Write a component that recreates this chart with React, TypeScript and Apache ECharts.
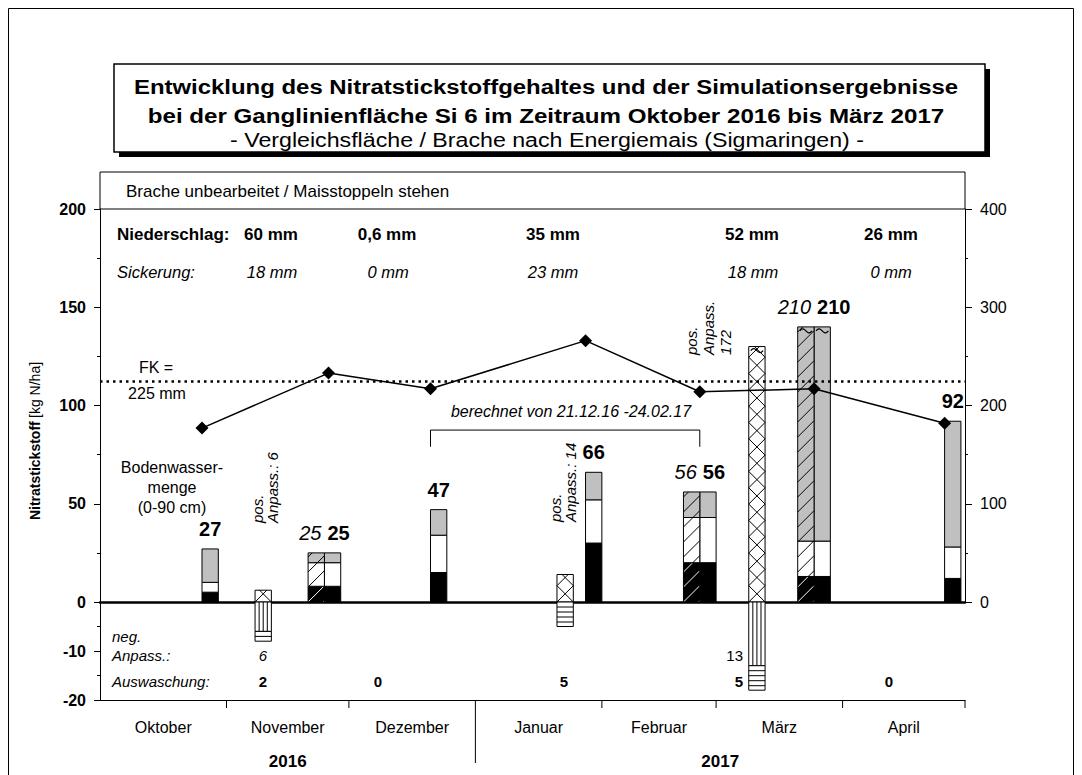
import React, { useEffect, useRef } from 'react';
import * as echarts from 'echarts';

const DAY = 86400000;
function d(s: string): number {
  const [y, m, dd] = s.split('-').map(Number);
  return Date.UTC(y, m - 1, dd);
}

// ---------- axes / categories
const X_START = '2016-10-01';
const X_END = '2017-05-01';
const MONTHS = ['Oktober', 'November', 'Dezember', 'Januar', 'Februar', 'März', 'April'];
const MONTH_BOUNDS = ['2016-10-01', '2016-11-01', '2016-12-01', '2017-01-01', '2017-02-01', '2017-03-01', '2017-04-01', '2017-05-01'];
const YEARS = ['2016', '2017'];
const YEAR_BOUNDS = ['2016-10-01', '2017-01-01', '2017-05-01'];

// ---------- measured nitrate N (layers: 0-30 black, 30-60 white, 60-90 gray) [kg N/ha]
const MEAS_DATES = ['2016-10-28', '2016-11-27', '2016-12-23', '2017-01-30', '2017-02-27', '2017-03-27', '2017-04-28'];
const MEAS_L1 = [5, 8, 15, 30, 20, 13, 12];
const MEAS_L2 = [5, 12, 19, 22, 23, 18, 16];
const MEAS_L3 = [17, 5, 13, 14, 13, 179, 64];
const MEAS_BREAK = [null, null, null, null, null, 140, null];

// ---------- simulated nitrate N (hatched)
const SIM_DATES = ['2016-11-23', '2017-02-23', '2017-03-23'];
const SIM_L1 = [8, 20, 13];
const SIM_L2 = [12, 23, 18];
const SIM_L3 = [5, 13, 179];
const SIM_BREAK = [null, null, 140];

// ---------- adjustments and leaching
const ADJ_DATES = ['2016-11-10', '2017-01-23', '2017-03-11'];
const ADJ_POS = [6, 14, 172];
const ADJ_POS_BREAK = [null, null, 130];
const ADJ_NEG = [6, 0, 13];
const ADJ_LEACH = [2, 5, 5];

// ---------- soil water (right axis) [mm]
const WATER_DATES = ['2016-10-26', '2016-11-26', '2016-12-21', '2017-01-28', '2017-02-25', '2017-03-25', '2017-04-26'];
const WATER_MM = [177, 233, 217, 266, 214, 217, 182];
const FK_MM = 225;

// ---------- period texts
const NIEDERSCHLAG = ['60 mm', '0,6 mm', '35 mm', '52 mm', '26 mm'];
const SICKERUNG = ['18 mm', '0 mm', '23 mm', '18 mm', '0 mm'];
const AUSWASCHUNG = ['2', '0', '5', '5', '0'];
const CALC_FROM = '2016-12-21';
const CALC_TO = '2017-02-25';

const TITLE = [
  'Entwicklung des Nitratstickstoffgehaltes und der Simulationsergebnisse',
  'bei der Ganglinienfläche Si 6 im Zeitraum Oktober 2016 bis März 2017',
  '- Vergleichsfläche / Brache nach Energiemais (Sigmaringen) -',
];
const HEADER = 'Brache unbearbeitet / Maisstoppeln stehen';

// ---------- styling
const FONT = '"Liberation Sans", Arial, Helvetica, sans-serif';
const f = (size: number, weight = 'normal', style = 'normal') => `${style} ${weight} ${size}px ${FONT}`;
const GRAY = '#c0c0c0';
const LAYER_FILL = ['#000', '#fff', GRAY];
const HATCH_STROKE = ['#fff', '#000', '#000'];
const BAR_DAYS = 4;

function diag(x0: number, y0: number, x1: number, y1: number, slope: number, spacing: number, ax: number, ay: number, stroke: string) {
  const out: any[] = [];
  const s0 = slope * x0, s1 = slope * x1;
  const bMin = y0 - Math.max(s0, s1);
  const bMax = y1 - Math.min(s0, s1);
  const base = ay - slope * ax;
  let b = base + Math.ceil((bMin - base) / spacing) * spacing;
  for (; b <= bMax + 1e-6; b += spacing) {
    let xa = (y0 - b) / slope, xb = (y1 - b) / slope;
    if (xa > xb) { const tmp = xa; xa = xb; xb = tmp; }
    const lo = Math.max(x0, xa), hi = Math.min(x1, xb);
    if (hi - lo < 0.8) continue;
    out.push({ type: 'line', shape: { x1: lo, y1: slope * lo + b, x2: hi, y2: slope * hi + b }, style: { stroke, lineWidth: 1 } });
  }
  return out;
}

function wave(x0: number, w: number, yTop: number) {
  return {
    type: 'bezierCurve',
    shape: { x1: x0 + 2, y1: yTop + 4, x2: x0 + w - 2, y2: yTop + 4, cpx1: x0 + w * 0.45, cpy1: yTop - 3, cpx2: x0 + w * 0.55, cpy2: yTop + 11 },
    style: { stroke: '#000', fill: 'none', lineWidth: 1.2 },
  };
}

function barGeom(api: any, t: number) {
  const xa = api.coord([t - (BAR_DAYS / 2) * DAY, 0])[0];
  const xb = api.coord([t + (BAR_DAYS / 2) * DAY, 0])[0];
  return { x0: xa, x1: xb, w: xb - xa, yZero: api.coord([t, 0])[1] };
}

function stackBar(api: any, t: number, layers: number[], cut: number | null, hatched: boolean, labelMode: string, italic: boolean) {
  const { x0, x1, w, yZero } = barGeom(api, t);
  const children: any[] = [];
  let acc = 0;
  let topY = yZero;
  layers.forEach((v, k) => {
    let lo = acc;
    let hi = acc + v;
    acc = hi;
    if (cut != null) {
      if (lo >= cut) return;
      hi = Math.min(hi, cut);
    }
    const yT = api.coord([t, hi])[1];
    const yB = api.coord([t, lo])[1];
    topY = yT;
    children.push({ type: 'rect', shape: { x: x0, y: yT, width: w, height: yB - yT }, style: { fill: LAYER_FILL[k], stroke: 'none' } });
    if (hatched) children.push(...diag(x0, yT, x1, yB, -1, 15, x0, yZero, HATCH_STROKE[k]));
    children.push({ type: 'rect', shape: { x: x0, y: yT, width: w, height: yB - yT }, style: { fill: 'none', stroke: '#000', lineWidth: 1 } });
  });
  if (cut != null) children.push(wave(x0, w, topY));
  const total = layers.reduce((a, b) => a + b, 0);
  let lx = (x0 + x1) / 2;
  let align = 'center';
  if (labelMode === 'right') { lx = x1 - 3; align = 'right'; }
  if (labelMode === 'left') { lx = x0 + 3; align = 'left'; }
  children.push({
    type: 'text', x: lx, y: topY - 20,
    style: { text: String(total), font: italic ? f(20, 'normal', 'italic') : f(20, 'bold'), fill: '#000', textAlign: align, textVerticalAlign: 'middle' },
  });
  return { type: 'group', children };
}

const SIM_T = SIM_DATES.map(d);
const isPaired = (t: number) => SIM_T.some((s) => Math.abs(t - s - BAR_DAYS * DAY) < DAY / 2);

function txt(x: number, y: number, text: string, font: string, align = 'left', extra: any = {}) {
  const { style: es, ...rest } = extra;
  return { type: 'text', x, y, style: { text, font, fill: '#000', textAlign: align, textVerticalAlign: 'middle', ...(es || {}) }, ...rest };
}

function buildOption() {
  const xMin = d(X_START), xMax = d(X_END);
  const axisText = { color: '#000', fontFamily: FONT, fontSize: 16 };
  const black = { color: '#000', width: 1 };
  const ROW_X = [271, 387, 553, 752, 891];
  const SICK_X = [272, 388, 553, 753, 891];
  const AUS_X = [263, 378, 564, 743, 889];
  const AUS_ALIGN = ['center', 'center', 'center', 'right', 'center'];

  const graphics: any[] = [
    { type: 'rect', shape: { x: 8.5, y: 8.5, width: 1065, height: 800 }, style: { fill: 'none', stroke: '#000', lineWidth: 1 } },
    { type: 'rect', shape: { x: 119, y: 69, width: 871, height: 88 }, style: { fill: '#000' } },
    { type: 'rect', shape: { x: 114, y: 64, width: 871, height: 88 }, style: { fill: '#fff', stroke: '#000', lineWidth: 1.5 } },
    txt(546, 87, TITLE[0], f(21, 'bold'), 'center', { scaleX: 1.14 }),
    txt(546, 116, TITLE[1], f(21, 'bold'), 'center', { scaleX: 1.15 }),
    txt(547, 140, TITLE[2], f(20), 'center', { scaleX: 1.16 }),
    { type: 'rect', shape: { x: 100, y: 172, width: 865, height: 37 }, style: { fill: 'none', stroke: '#000', lineWidth: 1 } },
    txt(126, 191, HEADER, f(17)),
    txt(117, 234, 'Niederschlag:', f(17, 'bold')),
    ...NIEDERSCHLAG.map((s, i) => txt(ROW_X[i], 234, s, f(17, 'bold'), 'center')),
    txt(117, 272, 'Sickerung:', f(16.5, 'normal', 'italic')),
    ...SICKERUNG.map((s, i) => txt(SICK_X[i], 272, s, f(16.5, 'normal', 'italic'), 'center')),
    txt(156, 367, 'FK =', f(16), 'center'),
    txt(157, 393, `${FK_MM} mm`, f(16), 'center'),
    txt(172, 487, 'Bodenwasser-\nmenge\n(0-90 cm)', f(16), 'center', { style: { lineHeight: 20 } }),
    txt(571, 411, 'berechnet von 21.12.16 -24.02.17', f(16, 'normal', 'italic'), 'center'),
    txt(265, 523, `pos.\nAnpass.: ${ADJ_POS[0]}`, f(15, 'normal', 'italic'), 'left', { rotation: Math.PI / 2, style: { lineHeight: 15 } }),
    txt(563, 522, `pos.\nAnpass.: ${ADJ_POS[1]}`, f(15, 'normal', 'italic'), 'left', { rotation: Math.PI / 2, style: { lineHeight: 15 } }),
    txt(708, 355, `pos.\nAnpass.\n${ADJ_POS[2]}`, f(15, 'normal', 'italic'), 'left', { rotation: Math.PI / 2, style: { lineHeight: 17 } }),
    txt(112, 636, 'neg.', f(15, 'normal', 'italic')),
    txt(112, 655, 'Anpass.:', f(15, 'normal', 'italic')),
    txt(263, 655, String(ADJ_NEG[0]), f(15, 'normal', 'italic'), 'center'),
    txt(743, 655, String(ADJ_NEG[2]), f(15), 'right'),
    txt(112, 681, 'Auswaschung:', f(15, 'normal', 'italic')),
    ...AUSWASCHUNG.map((s, i) => txt(AUS_X[i], 681, s, f(15, 'bold'), AUS_ALIGN[i])),
    {
      type: 'text', x: 35, y: 441, rotation: Math.PI / 2,
      style: {
        text: '{b|Nitratstickstoff} {n|[kg N/ha]}', fill: '#000', textAlign: 'center', textVerticalAlign: 'middle',
        rich: { b: { font: f(14, 'bold'), fill: '#000' }, n: { font: f(14), fill: '#000' } },
      },
    },
  ];

  return {
    animation: false,
    grid: [
      { left: 100, top: 209, width: 865, height: 393 },
      { left: 100, top: 602, width: 865, height: 98 },
    ],
    xAxis: [
      { type: 'time', gridIndex: 0, min: xMin, max: xMax, position: 'bottom', axisLine: { onZero: false, lineStyle: { color: '#000', width: 2.5 } }, axisTick: { show: false }, axisLabel: { show: false }, splitLine: { show: false } },
      { type: 'time', gridIndex: 1, min: xMin, max: xMax, position: 'bottom', axisLine: { onZero: false, lineStyle: black }, axisTick: { show: false }, axisLabel: { show: false }, splitLine: { show: false } },
    ],
    yAxis: [
      {
        type: 'value', gridIndex: 0, position: 'left', min: 0, max: 200, interval: 50,
        axisLine: { show: true, onZero: false, lineStyle: black },
        axisTick: { show: true, length: 6, lineStyle: black },
        minorTick: { show: true, splitNumber: 2, length: 3, lineStyle: black },
        axisLabel: { ...axisText, fontWeight: 'bold', margin: 14 },
        splitLine: { show: false },
      },
      {
        type: 'value', gridIndex: 0, position: 'right', min: 0, max: 400, interval: 100,
        axisLine: { show: true, onZero: false, lineStyle: black },
        axisTick: { show: true, length: 7, lineStyle: black },
        minorTick: { show: true, splitNumber: 2, length: 3, lineStyle: black },
        axisLabel: { ...axisText, margin: 15 },
        splitLine: { show: false },
      },
      {
        type: 'value', gridIndex: 1, position: 'left', min: -20, max: 0, interval: 10,
        axisLine: { show: true, onZero: false, lineStyle: black },
        axisTick: { show: true, length: 6, lineStyle: black },
        minorTick: { show: true, splitNumber: 2, length: 3, lineStyle: black },
        axisLabel: { ...axisText, fontWeight: 'bold', margin: 14, formatter: (v: number) => (v === 0 ? '' : String(v)) },
        splitLine: { show: false },
      },
    ],
    series: [
      {
        type: 'custom', name: 'Messung', xAxisIndex: 0, yAxisIndex: 0, clip: false, silent: true, z: 3,
        data: MEAS_DATES.map((s) => [d(s), 0]),
        renderItem: (params: any, api: any) => {
          const i = params.dataIndex;
          const t = d(MEAS_DATES[i]);
          return stackBar(api, t, [MEAS_L1[i], MEAS_L2[i], MEAS_L3[i]], MEAS_BREAK[i], false, isPaired(t) ? 'left' : 'center', false);
        },
      },
      {
        type: 'custom', name: 'Simulation', xAxisIndex: 0, yAxisIndex: 0, clip: false, silent: true, z: 3,
        data: SIM_DATES.map((s) => [d(s), 0]),
        renderItem: (params: any, api: any) => {
          const i = params.dataIndex;
          return stackBar(api, d(SIM_DATES[i]), [SIM_L1[i], SIM_L2[i], SIM_L3[i]], SIM_BREAK[i], true, 'right', true);
        },
      },
      {
        type: 'custom', name: 'pos. Anpassung', xAxisIndex: 0, yAxisIndex: 0, clip: false, silent: true, z: 3,
        data: ADJ_DATES.map((s) => [d(s), 0]),
        renderItem: (params: any, api: any) => {
          const i = params.dataIndex;
          const t = d(ADJ_DATES[i]);
          const { x0, x1, w, yZero } = barGeom(api, t);
          const cut = ADJ_POS_BREAK[i];
          const top = cut != null ? Math.min(cut, ADJ_POS[i]) : ADJ_POS[i];
          const yT = api.coord([t, top])[1];
          const children: any[] = [
            { type: 'rect', shape: { x: x0, y: yT, width: w, height: yZero - yT }, style: { fill: '#fff', stroke: 'none' } },
            ...diag(x0, yT, x1, yZero, -1, w, x0, yZero, '#000'),
            ...diag(x0, yT, x1, yZero, 1, w, x0, yZero, '#000'),
            { type: 'rect', shape: { x: x0, y: yT, width: w, height: yZero - yT }, style: { fill: 'none', stroke: '#000', lineWidth: 1 } },
          ];
          if (cut != null) children.push(wave(x0, w, yT));
          return { type: 'group', children };
        },
      },
      {
        type: 'custom', name: 'neg. Anpassung / Auswaschung', xAxisIndex: 1, yAxisIndex: 2, clip: false, silent: true, z: 3,
        data: ADJ_DATES.map((s) => [d(s), 0]),
        renderItem: (params: any, api: any) => {
          const i = params.dataIndex;
          const t = d(ADJ_DATES[i]);
          const { x0, w, yZero } = barGeom(api, t);
          const children: any[] = [];
          const yN = api.coord([t, -ADJ_NEG[i]])[1];
          if (ADJ_NEG[i] > 0) {
            children.push({ type: 'rect', shape: { x: x0, y: yZero, width: w, height: yN - yZero }, style: { fill: '#fff', stroke: '#000', lineWidth: 1 } });
            for (let k = 1; k <= 3; k++) {
              const x = x0 + (w * k) / 4;
              children.push({ type: 'line', shape: { x1: x, y1: yZero, x2: x, y2: yN }, style: { stroke: '#000', lineWidth: 1 } });
            }
          }
          const yL = api.coord([t, -(ADJ_NEG[i] + ADJ_LEACH[i])])[1];
          if (ADJ_LEACH[i] > 0) {
            children.push({ type: 'rect', shape: { x: x0, y: yN, width: w, height: yL - yN }, style: { fill: '#fff', stroke: '#000', lineWidth: 1 } });
            for (let y = yN + 5; y < yL - 1.5; y += 5) {
              children.push({ type: 'line', shape: { x1: x0, y1: y, x2: x0 + w, y2: y }, style: { stroke: '#000', lineWidth: 1 } });
            }
          }
          return { type: 'group', children };
        },
      },
      {
        type: 'custom', name: 'Monate', xAxisIndex: 1, yAxisIndex: 2, clip: false, silent: true,
        data: MONTHS.map((m, i) => [d(MONTH_BOUNDS[i]), -20]),
        renderItem: (params: any, api: any) => {
          const i = params.dataIndex;
          const [xa, yb] = api.coord([d(MONTH_BOUNDS[i]), -20]);
          const xb = api.coord([d(MONTH_BOUNDS[i + 1]), -20])[0];
          const yearEdge = i + 1 < MONTHS.length && YEAR_BOUNDS.includes(MONTH_BOUNDS[i + 1]);
          return {
            type: 'group',
            children: [
              { type: 'text', x: (xa + xb) / 2, y: yb + 27, style: { text: MONTHS[i], font: f(16), fill: '#000', textAlign: 'center', textVerticalAlign: 'middle' } },
              { type: 'line', shape: { x1: xb, y1: yb, x2: xb, y2: yb + (yearEdge ? 63 : 8) }, style: { stroke: '#000', lineWidth: 1 } },
            ],
          };
        },
      },
      {
        type: 'custom', name: 'Jahre', xAxisIndex: 1, yAxisIndex: 2, clip: false, silent: true,
        data: YEARS.map((y, i) => [d(YEAR_BOUNDS[i]), -20]),
        renderItem: (params: any, api: any) => {
          const i = params.dataIndex;
          const [xa, yb] = api.coord([d(YEAR_BOUNDS[i]), -20]);
          const xb = api.coord([d(YEAR_BOUNDS[i + 1]), -20])[0];
          return { type: 'text', x: (xa + xb) / 2, y: yb + 61, style: { text: YEARS[i], font: f(17, 'bold'), fill: '#000', textAlign: 'center', textVerticalAlign: 'middle' } };
        },
      },
      {
        type: 'line', name: 'berechnet', xAxisIndex: 0, yAxisIndex: 0, silent: true, z: 4, symbol: 'none',
        data: [[d(CALC_FROM), 79], [d(CALC_FROM), 87.5], [d(CALC_TO), 87.5], [d(CALC_TO), 79]],
        lineStyle: { color: '#000', width: 1 },
      },
      {
        type: 'line', name: 'Bodenwassermenge', xAxisIndex: 0, yAxisIndex: 1, silent: true, z: 6,
        data: WATER_DATES.map((s, i) => [d(s), WATER_MM[i]]),
        symbol: 'diamond', symbolSize: 13, showSymbol: true,
        itemStyle: { color: '#000' },
        lineStyle: { color: '#000', width: 1.5 },
        markLine: {
          silent: true, symbol: ['none', 'none'], label: { show: false },
          lineStyle: { color: '#000', width: 2.5, type: [2.5, 4] },
          data: [{ yAxis: FK_MM }],
        },
      },
    ],
    graphic: { elements: graphics },
  };
}

export default function App() {
  const ref = useRef<HTMLDivElement>(null);
  useEffect(() => {
    document.body.style.margin = '0';
    const chart = echarts.init(ref.current as HTMLDivElement, null, { renderer: 'svg' });
    chart.setOption(buildOption() as any);
    return () => chart.dispose();
  }, []);
  return <div ref={ref} style={{ width: 1082, height: 775, background: '#fff' }} />;
}
